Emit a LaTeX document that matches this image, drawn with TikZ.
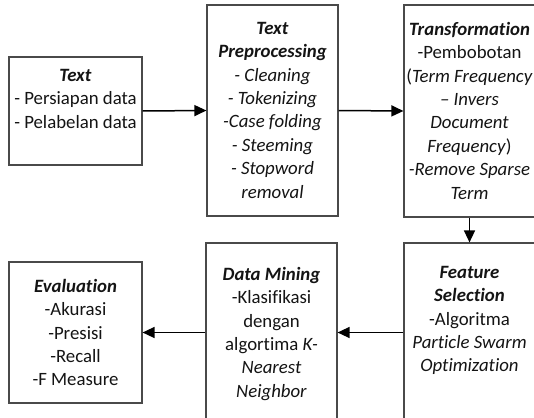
\documentclass[tikz,border=0pt]{standalone}
\usepackage{fontspec}
\setmainfont[Ligatures={NoCommon}]{Carlito}
\usetikzlibrary{arrows.meta}
\definecolor{ink}{HTML}{141414}
\definecolor{frame}{HTML}{4A4A4A}
\tikzset{
  stagebox/.style={draw=frame, line width=1.2pt, fill=white, inner sep=0pt},
  stagetext/.style={anchor=north, align=center, inner sep=0pt, text=ink,
    font=\fontsize{18.8}{23.4}\selectfont},
  flow/.style={draw=black, line width=1.5pt, -{Triangle[length=12pt,width=11pt]}}
}
\newcommand{\hd}[1]{\textbf{\textit{#1}}}
\begin{document}
\begin{tikzpicture}[x=1pt,y=-1pt]
\clip (0,0) rectangle (534,417);
\fill[white] (0,0) rectangle (534,417);
% boxes
\node[stagebox, minimum width=133pt, minimum height=108pt] (b1) at (75.5,111) {};
\node[stagebox, minimum width=131pt, minimum height=211pt] (b2) at (272.5,110.5) {};
\node[stagebox, minimum width=131pt, minimum height=212pt] (b3) at (469.5,111) {};
\node[stagebox, minimum width=131pt, minimum height=190pt] (b4) at (469.5,338) {};
\node[stagebox, minimum width=131pt, minimum height=190pt] (b5) at (271.5,338) {};
\node[stagebox, minimum width=133pt, minimum height=141pt] (b6) at (75.5,332.5) {};
% texts
\node[stagetext] (t1) at (75.5,69) {\hd{Text}\\- Persiapan data\\- Pelabelan data};
\node[stagetext] (t2) at (272.5,22) {\hd{Text}\\\hd{Preprocessing}\\\textit{- Cleaning}\\\textit{- Tokenizing}\\\textit{-Case folding}\\\textit{- Steeming}\\\textit{- Stopword}\\\textit{removal}};
\node[stagetext] (t3) at (469.5,22) {\hd{Transformation}\\-Pembobotan\\(\textit{Term Frequency}\\\textit{-- Invers}\\\textit{Document}\\\textit{Frequency})\\\textit{-Remove Sparse}\\\textit{Term}};
\node[stagetext] (t4) at (469.5,266) {\hd{Feature}\\\hd{Selection}\\-Algoritma\\\textit{Particle Swarm}\\\textit{Optimization}};
\node[stagetext] (t5) at (271.5,267) {\hd{Data Mining}\\-Klasifikasi\\dengan\\algortima \textit{K-}\\\textit{Nearest}\\\textit{Neighbor}};
\node[stagetext] (t6) at (75.5,279) {\hd{Evaluation}\\-Akurasi\\-Presisi\\-Recall\\-F Measure};
% connectors
\draw[flow] (b1.east) -- (b2.west);
\draw[flow] (b2.east) -- (b3.west);
\draw[flow] (b3.south) -- (b4.north);
\draw[flow] (b4.west |- b6.east) -- (b5.east |- b6.east);
\draw[flow] (b5.west |- b6.east) -- (b6.east);
\end{tikzpicture}
\end{document}
